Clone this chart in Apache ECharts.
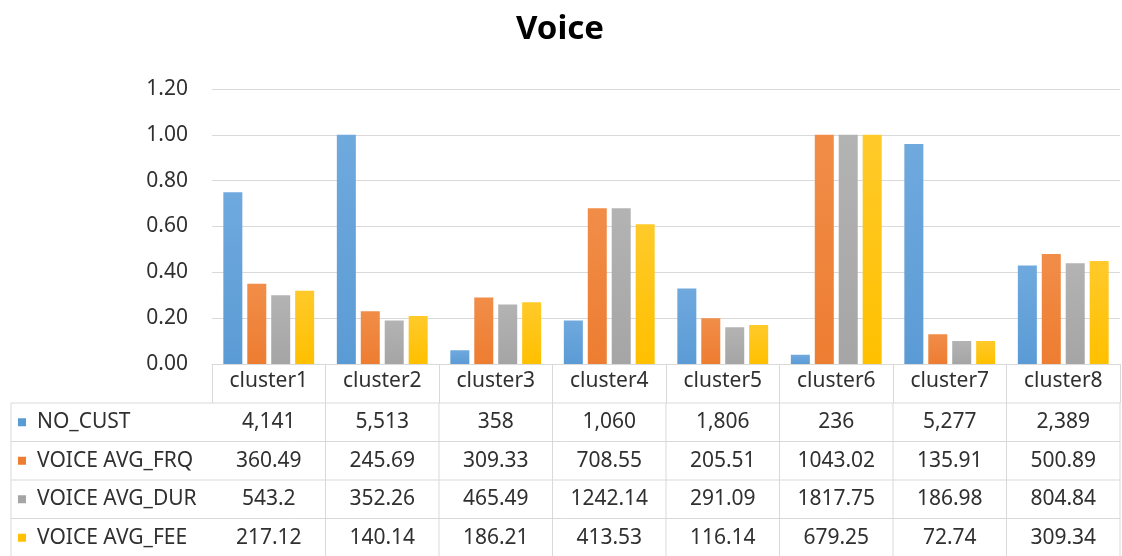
<!DOCTYPE html>
<html>
<head>
<meta charset="utf-8">
<script src="https://cdn.jsdelivr.net/npm/echarts@6/dist/echarts.min.js"></script>
<style>
    html, body { margin: 0; padding: 0; background: #fff; }
    #chart { width: 1122px; height: 556px; }
</style>
</head>
<body>
<div id="chart"></div>
<script>
// data
var categories = ['cluster1', 'cluster2', 'cluster3', 'cluster4', 'cluster5', 'cluster6', 'cluster7', 'cluster8'];
var seriesNames = ['NO_CUST', 'VOICE AVG_FRQ', 'VOICE AVG_DUR', 'VOICE AVG_FEE'];
var noCust = [0.75, 1.00, 0.06, 0.19, 0.33, 0.04, 0.96, 0.43];
var avgFrq = [0.35, 0.23, 0.29, 0.68, 0.20, 1.00, 0.13, 0.48];
var avgDur = [0.30, 0.19, 0.26, 0.68, 0.16, 1.00, 0.10, 0.44];
var avgFee = [0.32, 0.21, 0.27, 0.61, 0.17, 1.00, 0.10, 0.45];

// data table under the chart
var tableNoCust = ['4,141', '5,513', '358', '1,060', '1,806', '236', '5,277', '2,389'];
var tableFrq = ['360.49', '245.69', '309.33', '708.55', '205.51', '1043.02', '135.91', '500.89'];
var tableDur = ['543.2', '352.26', '465.49', '1242.14', '291.09', '1817.75', '186.98', '804.84'];
var tableFee = ['217.12', '140.14', '186.21', '413.53', '116.14', '679.25', '72.74', '309.34'];

var colors = ['#5B9BD5', '#ED7D31', '#A5A5A5', '#FFC000'];
var lightColors = ['#6FA9DE', '#F18D48', '#B3B3B3', '#FFCA2A'];
var FONT = 'Noto Sans';
var TEXT = '#303030';
var lineColor = '#d9d9d9';

var chart = echarts.init(document.getElementById('chart'));

function makeSeries(name, data, idx) {
    return {
        name: name,
        type: 'bar',
        data: data,
        barWidth: 19,
        barGap: '26%',
        itemStyle: {
            color: new echarts.graphic.LinearGradient(0, 0, 0, 1, [
                {offset: 0, color: lightColors[idx]},
                {offset: 1, color: colors[idx]}
            ])
        }
    };
}

var option = {
    animation: false,
    title: {
        text: 'Voice',
        left: 555,
        textAlign: 'center',
        top: 8,
        textStyle: {fontFamily: FONT, fontSize: 33, fontWeight: 'bold', color: '#000'}
    },
    grid: {left: 212, right: 2, top: 89, bottom: 192, containLabel: false},
    xAxis: {
        type: 'category',
        data: categories,
        axisLine: {show: true, lineStyle: {color: lineColor}},
        axisTick: {show: true, length: 39, interval: 0, lineStyle: {color: lineColor}},
        axisLabel: {fontFamily: FONT, fontSize: 21, color: TEXT, margin: 7, interval: 0}
    },
    yAxis: {
        type: 'value',
        min: 0,
        max: 1.2,
        interval: 0.2,
        axisLine: {show: false},
        axisTick: {show: false},
        splitLine: {lineStyle: {color: lineColor}},
        axisLabel: {
            fontFamily: FONT, fontSize: 21, color: TEXT, margin: 24,
            formatter: function (v) { return v.toFixed(2); }
        }
    },
    series: [
        makeSeries(seriesNames[0], noCust, 0),
        makeSeries(seriesNames[1], avgFrq, 1),
        makeSeries(seriesNames[2], avgDur, 2),
        makeSeries(seriesNames[3], avgFee, 3)
    ]
};
chart.setOption(option);

// build the data table from the axis positions
function drawTable() {
    var rows = [tableNoCust, tableFrq, tableDur, tableFee];
    var els = [];
    var gridRect = chart.getModel().getComponent('grid').coordinateSystem.getRect();
    var left = 11;
    var right = gridRect.x + gridRect.width;
    var top = gridRect.y + gridRect.height + 39;
    var rowH = 38.5;
    var bandW = gridRect.width / categories.length;

    for (var r = 0; r < rows.length; r++) {
        var y = top + r * rowH;
        els.push({
            type: 'line', silent: true,
            shape: {x1: left, y1: y, x2: right, y2: y},
            style: {stroke: lineColor, lineWidth: 1}
        });
        var cy = y + rowH / 2;
        els.push({
            type: 'rect', silent: true,
            shape: {x: 18, y: cy - 4, width: 8, height: 8},
            style: {fill: colors[r]}
        });
        els.push({
            type: 'text', silent: true, x: 37, y: cy,
            style: {
                text: seriesNames[r], fontFamily: FONT, fontSize: 21, fill: TEXT,
                align: 'left', verticalAlign: 'middle'
            }
        });
        for (var c = 0; c < categories.length; c++) {
            var cx = chart.convertToPixel({xAxisIndex: 0}, categories[c]);
            els.push({
                type: 'text', silent: true, x: cx, y: cy,
                style: {
                    text: rows[r][c], fontFamily: FONT, fontSize: 21, fill: TEXT,
                    align: 'center', verticalAlign: 'middle'
                }
            });
        }
    }
    // left border and column separators
    els.push({
        type: 'line', silent: true,
        shape: {x1: left, y1: top, x2: left, y2: 556},
        style: {stroke: lineColor, lineWidth: 1}
    });
    for (var k = 1; k <= categories.length; k++) {
        var x = gridRect.x + k * bandW;
        els.push({
            type: 'line', silent: true,
            shape: {x1: x, y1: top, x2: x, y2: 556},
            style: {stroke: lineColor, lineWidth: 1}
        });
    }
    chart.setOption({graphic: els});
}
drawTable();
</script>
</body>
</html>
